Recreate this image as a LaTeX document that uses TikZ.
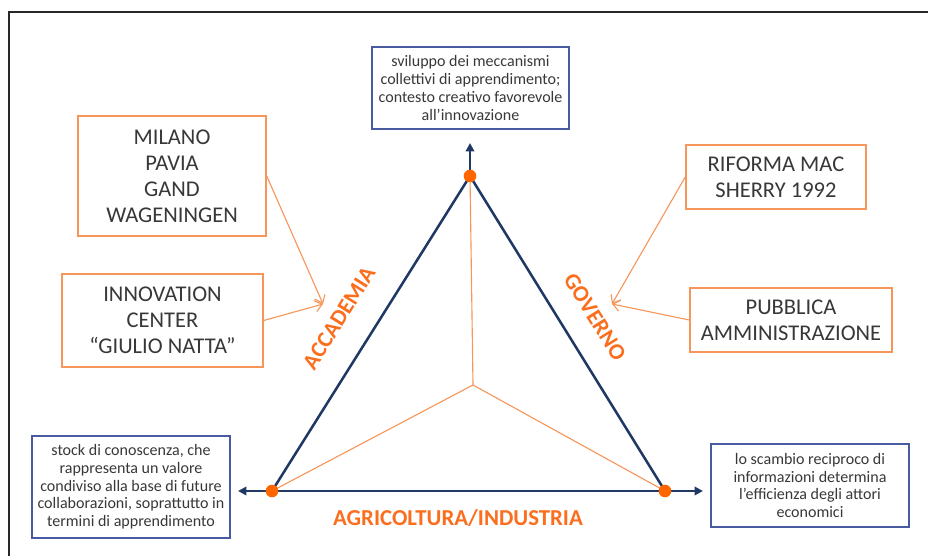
\documentclass[tikz,border=0pt]{standalone}
\usepackage{fontspec}
\setmainfont{Carlito}
\usetikzlibrary{positioning, arrows.meta}
\definecolor{trinavy}{RGB}{31,56,100}
\definecolor{boxblue}{RGB}{72,90,160}
\definecolor{boxorange}{RGB}{246,150,90}
\definecolor{lblorange}{RGB}{250,110,30}
\definecolor{dotorange}{RGB}{255,102,0}
\definecolor{txtgray}{RGB}{56,56,56}
\definecolor{framegray}{RGB}{40,40,40}

\begin{document}
\begin{tikzpicture}[x=0.025cm, y=-0.025cm,
  actor/.style={rectangle, draw=boxorange, line width=1pt, fill=white, align=center,
                text=txtgray, font=\fontsize{16}{18.5}\selectfont, inner sep=0pt},
  note/.style={rectangle, draw=boxblue, line width=0.8pt, fill=white, align=center,
               text=txtgray, font=\fontsize{11.4}{12.6}\selectfont, inner sep=0pt},
  sidelabel/.style={text=lblorange, font=\fontsize{16.2}{18}\selectfont\bfseries},
  edgeline/.style={draw=trinavy, line width=1.8pt, line join=round},
  link/.style={draw=boxorange, line width=0.8pt, -{Straight Barb[length=5pt,width=8pt]}},
  spoke/.style={draw=boxorange, line width=0.8pt},
  vert/.style={circle, fill=dotorange, inner sep=0pt, minimum size=9pt}
]
  \useasboundingbox (0,0) rectangle (928,556);
  \draw[framegray, line width=1pt] (9,556) -- (9,12) -- (928,12);

  % triangle corners and arrow ends
  \coordinate (apexpt)   at (470,176);
  \coordinate (basel)    at (272,491);
  \coordinate (baser)    at (665,491);
  \coordinate (mid)      at (473,385);
  \coordinate (uptip)    at (470,143);
  \coordinate (lefttip)  at (238,491);
  \coordinate (righttip) at (703,491);
  \coordinate (acc)      at (323,304);
  \coordinate (gov)      at (612,304);

  \node[note, minimum width=4.925cm, minimum height=2.05cm] (topnote) at (470.5,88)
    {sviluppo dei meccanismi\\collettivi di apprendimento;\\contesto creativo favorevole\\all’innovazione};
  \node[note, minimum width=4.95cm, minimum height=2.55cm] (leftnote) at (131,487)
    {stock di conoscenza, che\\rappresenta un valore\\condiviso alla base di future\\collaborazioni, soprattutto in\\termini di apprendimento};
  \node[note, minimum width=4.95cm, minimum height=2.075cm] (rightnote) at (810,485.5)
    {lo scambio reciproco di\\informazioni determina\\l’efficienza degli attori\\economici};

  \node[actor, minimum width=4.7cm, minimum height=3cm] (milano) at (172,176)
    {MILANO\\PAVIA\\GAND\\WAGENINGEN};
  \node[actor, minimum width=5.025cm, minimum height=2.325cm] (natta) at (162.5,320.5)
    {INNOVATION\\CENTER\\“GIULIO NATTA”};
  \node[actor, minimum width=4.5cm, minimum height=1.6cm] (riforma) at (776,177)
    {RIFORMA MAC\\SHERRY 1992};
  \node[actor, minimum width=5.05cm, minimum height=1.6cm] (pa) at (791,320)
    {PUBBLICA\\AMMINISTRAZIONE};

  \draw[spoke] (apexpt) -- (mid) -- (basel);
  \draw[spoke] (mid) -- (baser);
  \draw[edgeline] (basel) -- (apexpt) -- (baser);
  \draw[edgeline, {Triangle[length=6pt,width=6pt]}-{Triangle[length=6pt,width=6pt]}] (lefttip) -- (righttip);
  \draw[edgeline, -{Triangle[length=6pt,width=6pt]}] (apexpt) -- (uptip);

  \draw[link] (milano.east) -- (acc);
  \draw[link] (natta.east) -- (acc);
  \draw[link] (riforma.west) -- (gov);
  \draw[link] (pa.west) -- (gov);

  \node[vert] (dottop)   at (apexpt) {};
  \node[vert] (dotleft)  at (basel) {};
  \node[vert] (dotright) at (baser) {};

  \node[sidelabel, rotate=58]  (accademia) at (339,318) {ACCADEMIA};
  \node[sidelabel, rotate=-58] (governo)   at (595,317) {GOVERNO};
  \node[sidelabel]             (agri)      at (458,518) {AGRICOLTURA/INDUSTRIA};
\end{tikzpicture}
\end{document}
